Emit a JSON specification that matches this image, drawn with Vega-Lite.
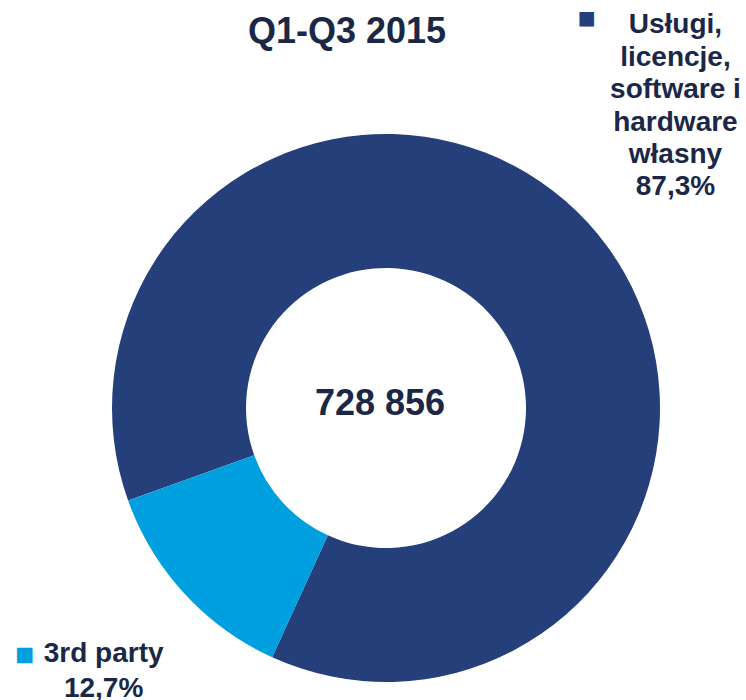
{
  "$schema": "https://vega.github.io/schema/vega-lite/v6.json",
  "width": 746,
  "height": 700,
  "autosize": {"type": "none"},
  "padding": {"left": 13, "top": 58, "right": 0, "bottom": 0},
  "background": "white",
  "title": {
    "text": "Q1-Q3 2015",
    "font": "Liberation Sans",
    "fontSize": 36,
    "fontWeight": "bold",
    "color": "#1a2747",
    "anchor": "middle",
    "frame": "group",
    "dx": -39,
    "offset": -75,
    "baseline": "alphabetic"
  },
  "config": {"view": {"stroke": null}},
  "data": {
    "values": [
      {"category": "Usługi, licencje, software i hardware własny", "value": 87.3, "label": "Usługi,\nlicencje,\nsoftware i\nhardware\nwłasny\n87,3%"},
      {"category": "3rd party", "value": 12.7, "label": "3rd party\n12,7%"}
    ]
  },
  "layer": [
    {
      "mark": {"type": "arc", "outerRadius": 274, "innerRadius": 140},
      "encoding": {
        "theta": {"field": "value", "type": "quantitative", "stack": true, "scale": {"range": [4.368, 10.651]}},
        "order": {"field": "value", "type": "quantitative", "sort": "descending"},
        "color": {
          "field": "category",
          "type": "nominal",
          "scale": {"domain": ["Usługi, licencje, software i hardware własny", "3rd party"], "range": ["#253f7a", "#009fdf"]},
          "legend": null
        }
      }
    },
    {
      "mark": {"type": "text", "radius": 419, "dx": -19, "dy": -99, "font": "Liberation Sans", "fontSize": 28, "fontWeight": "bold", "lineBreak": "\n", "lineHeight": 32.4, "align": "center", "baseline": "middle", "color": "#1a2747"},
      "encoding": {
        "theta": {"field": "value", "type": "quantitative", "stack": true},
        "order": {"field": "value", "type": "quantitative", "sort": "descending"},
        "text": {"condition": {"test": "datum.value > 50", "field": "label"}, "value": ""}
      }
    },
    {
      "mark": {"type": "text", "radius": 385, "dx": 1, "dy": -15, "font": "Liberation Sans", "fontSize": 28, "fontWeight": "bold", "lineBreak": "\n", "lineHeight": 35, "align": "center", "baseline": "middle", "color": "#1a2747"},
      "encoding": {
        "theta": {"field": "value", "type": "quantitative", "stack": true},
        "order": {"field": "value", "type": "quantitative", "sort": "descending"},
        "text": {"condition": {"test": "datum.value < 50", "field": "label"}, "value": ""}
      }
    },
    {
      "mark": {"type": "text", "radius": 419, "dx": -108, "dy": -105, "font": "Liberation Sans", "fontSize": 30, "align": "center", "baseline": "middle"},
      "encoding": {
        "theta": {"field": "value", "type": "quantitative", "stack": true},
        "order": {"field": "value", "type": "quantitative", "sort": "descending"},
        "color": {"field": "category", "type": "nominal", "legend": null},
        "text": {"condition": {"test": "datum.value > 50", "value": "■"}, "value": ""}
      }
    },
    {
      "mark": {"type": "text", "radius": 385, "dx": -78, "dy": -14, "font": "Liberation Sans", "fontSize": 32, "align": "center", "baseline": "middle"},
      "encoding": {
        "theta": {"field": "value", "type": "quantitative", "stack": true},
        "order": {"field": "value", "type": "quantitative", "sort": "descending"},
        "color": {"field": "category", "type": "nominal", "legend": null},
        "text": {"condition": {"test": "datum.value < 50", "value": "■"}, "value": ""}
      }
    },
    {
      "data": {"values": [{"total": "728 856"}]},
      "mark": {"type": "text", "dx": -6, "dy": 7, "font": "Liberation Sans", "fontSize": 36, "fontWeight": "bold", "align": "center", "baseline": "alphabetic", "color": "#1a2747"},
      "encoding": {"text": {"field": "total", "type": "nominal"}}
    }
  ]
}
